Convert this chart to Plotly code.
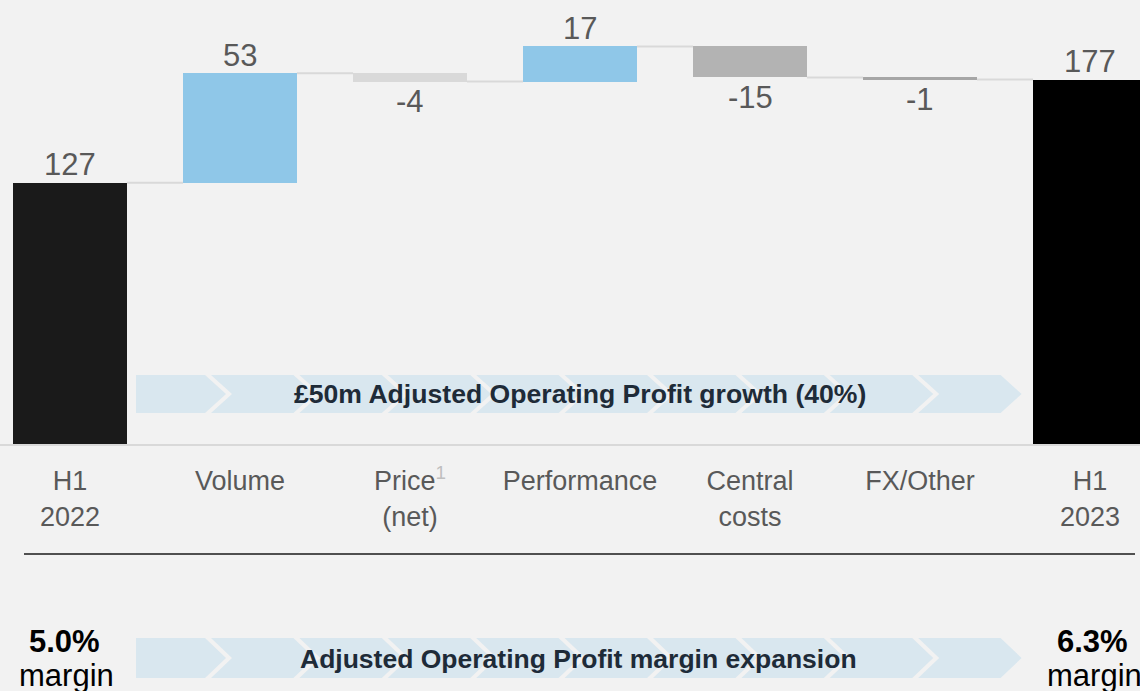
import plotly.graph_objects as go

# bridge data (GBP m)
categories = ["H1<br>2022", "Volume", "Price<sup><span style='color:#bfbfbf'>1</span></sup><br>(net)",
              "Performance", "Central<br>costs", "FX/Other", "H1<br>2023"]
values = [127, 53, -4, 17, -15, -1, 177]
kinds = ["total", "delta", "delta", "delta", "delta", "delta", "total"]
bar_colors = ["#1a1a1a", "#8fc7e8", "#d9d9d9", "#8fc7e8", "#b3b3b3", "#a6a6a6", "#000000"]
margin_start = ["5.0%", "margin"]
margin_end = ["6.3%", "margin"]
growth_text = "£50m Adjusted Operating Profit growth (40%)"
margin_text = "Adjusted Operating Profit margin expansion"

W, H = 1140, 691
FONT = "Liberation Sans, Arial, sans-serif"
BAR_W = 0.67

# bases / ends of each bar
bases, heights, ends = [], [], []
running = 0
for v, k in zip(values, kinds):
    if k == "total":
        bases.append(0)
        running = v
    else:
        bases.append(running)
        running += v
    heights.append(v)
    ends.append(running)

xs = list(range(len(values)))

fig = go.Figure()
fig.add_trace(go.Bar(
    x=xs, y=heights, base=bases, width=BAR_W,
    marker=dict(color=bar_colors, line=dict(width=0)),
    hoverinfo="skip", showlegend=False,
))

# connectors
cx, cy = [], []
for i in range(len(values) - 1):
    cx += [i + BAR_W / 2, i + 1 - BAR_W / 2, None]
    cy += [ends[i], ends[i], None]
fig.add_trace(go.Scatter(x=cx, y=cy, mode="lines", line=dict(color="#d9d9d9", width=2),
                         hoverinfo="skip", showlegend=False))

annotations = []
for i, v in enumerate(values):
    up = kinds[i] == "total" or v > 0
    annotations.append(dict(
        x=i, y=ends[i], xref="x", yref="y", text=str(v), showarrow=False,
        yshift=18 if up else -20, xanchor="center", yanchor="middle",
        font=dict(family=FONT, size=31, color="#595959"),
    ))


def px(x):
    return x / W


def py(y):
    return 1 - y / H


def chevrons(y0, y1, n=10, start=136, first_right=205, step=88.4, gap=6, depth=21):
    shapes = []
    mid = (y0 + y1) / 2
    for k in range(n):
        r = first_right + step * k
        if k == 0:
            path = "M {} {} L {} {} L {} {} L {} {} L {} {} Z".format(
                px(start), py(y0), px(r), py(y0), px(r + depth), py(mid), px(r), py(y1), px(start), py(y1))
        else:
            l = first_right + step * (k - 1) + gap
            path = "M {} {} L {} {} L {} {} L {} {} L {} {} L {} {} Z".format(
                px(l), py(y0), px(r), py(y0), px(r + depth), py(mid), px(r), py(y1),
                px(l), py(y1), px(l + depth), py(mid))
        shapes.append(dict(type="path", path=path, xref="paper", yref="paper",
                           fillcolor="#d9e7ef", line=dict(width=0), layer="below"))
    return shapes


shapes = chevrons(375, 413) + chevrons(638, 678)
shapes.append(dict(type="line", xref="paper", yref="paper", x0=px(24), x1=px(1135),
                   y0=py(554), y1=py(554), line=dict(color="#1a1a1a", width=1.5)))


def note(xc, yc, text, size, color, bold=False):
    return dict(x=px(xc), y=py(yc), xref="paper", yref="paper", xanchor="center", yanchor="middle",
                text="<b>" + text + "</b>" if bold else text, showarrow=False,
                font=dict(family=FONT, size=size, color=color))


annotations.append(note(580, 394, growth_text, 26.6, "#1e2b38", True))
annotations.append(note(578.5, 659, margin_text, 26.5, "#1e2b38", True))

for xc, lab in [(64, margin_start), (1092, margin_end)]:
    annotations.append(note(xc, 641, lab[0], 31, "#000000", True))
    annotations.append(note(xc + 2, 675, lab[1], 31, "#000000"))

fig.update_layout(
    width=W, height=H,
    margin=dict(l=0, r=0, t=0, b=0),
    paper_bgcolor="#f2f2f2", plot_bgcolor="#f2f2f2",
    bargap=0, shapes=shapes, annotations=annotations,
    xaxis=dict(range=[-70 / 170, -70 / 170 + W / 170], tickvals=xs, ticktext=categories,
               anchor="free", position=(H - 445) / H, showline=True, linecolor="#d9d9d9", linewidth=2,
               showgrid=False, zeroline=False, ticks="", ticklabelstandoff=12,
               tickfont=dict(family=FONT, size=27, color="#595959")),
    yaxis=dict(range=[-(H - 445) / 2.065, 445 / 2.065], visible=False),
)

fig.write_html("out.html", config={"displayModeBar": False},
               post_script="document.body.style.margin='0';")
